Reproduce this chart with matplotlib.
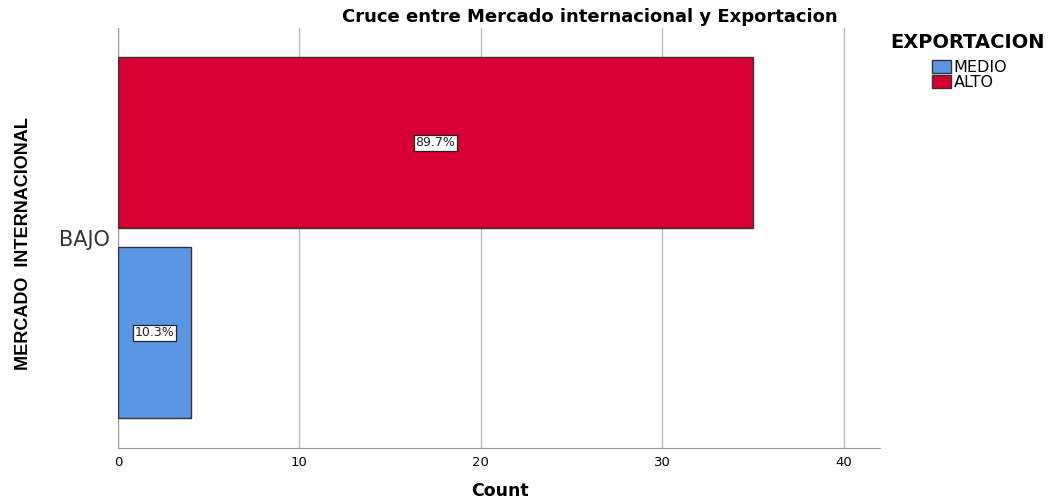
import matplotlib.pyplot as plt
from matplotlib.patches import Patch

plt.rcParams['font.family'] = ['DejaVu Sans']

categoria = 'BAJO'
series = ['MEDIO', 'ALTO']
conteos = [4, 35]
porcentajes = ['10.3%', '89.7%']
colores = ['#5A96E3', '#D60032']

fig = plt.figure(figsize=(10.61, 5.04), dpi=100)
ax = fig.add_axes([0.1112, 0.1111, 0.7182, 0.8333])

offsets = [-0.222, 0.222]
for i in range(len(series)):
    ax.barh(offsets[i], conteos[i], height=0.4, color=colores[i],
            edgecolor='#333333', linewidth=1, zorder=3)
    ax.text(conteos[i] / 2, offsets[i], porcentajes[i], ha='center', va='center',
            fontsize=9, color='#222222', zorder=4,
            bbox=dict(boxstyle='square,pad=0.12', fc='white', ec='#222222', lw=0.9))

ax.set_xlim(0, 42)
ax.set_ylim(-0.492, 0.49)
ax.set_xticks([0, 10, 20, 30, 40])
ax.set_yticks([0])
ax.set_yticklabels([categoria], fontsize=15, color='#333333')
ax.tick_params(axis='x', labelsize=9.5, length=0, pad=6)
ax.tick_params(axis='y', length=0, pad=6)
ax.xaxis.grid(True, color='#BBBBBB', linewidth=1, zorder=0)
for s in ['top', 'right']:
    ax.spines[s].set_visible(False)
ax.spines['left'].set_color('#999999')
ax.spines['bottom'].set_color('#999999')

fig.text(500 / 1061, 1 - 491 / 504, 'Count', ha='center', va='center',
         fontsize=12.5, fontweight='bold')
fig.text(0.022, 0.516, 'MERCADO  INTERNACIONAL', rotation=90, ha='center', va='center',
         fontsize=13, fontweight='bold', family=['Liberation Sans', 'DejaVu Sans'])
fig.text(0.556, 0.966, 'Cruce entre Mercado internacional y Exportacion',
         ha='center', va='center', fontsize=13, fontweight='bold')

fig.text(890 / 1061, 1 - 42 / 504, 'EXPORTACION', ha='left', va='center',
         fontsize=14, fontweight='bold')
handles = [Patch(facecolor=colores[i], edgecolor='#333333', label=series[i]) for i in range(len(series))]
leg = fig.legend(handles=handles, loc='upper left',
                 bbox_to_anchor=(932 / 1061, 1 - 60 / 504), frameon=False, fontsize=11.5,
                 handlelength=1.2, handleheight=0.9, handletextpad=0.15, labelspacing=0.0,
                 borderpad=0, borderaxespad=0)

fig.savefig('out.png', dpi=100)
